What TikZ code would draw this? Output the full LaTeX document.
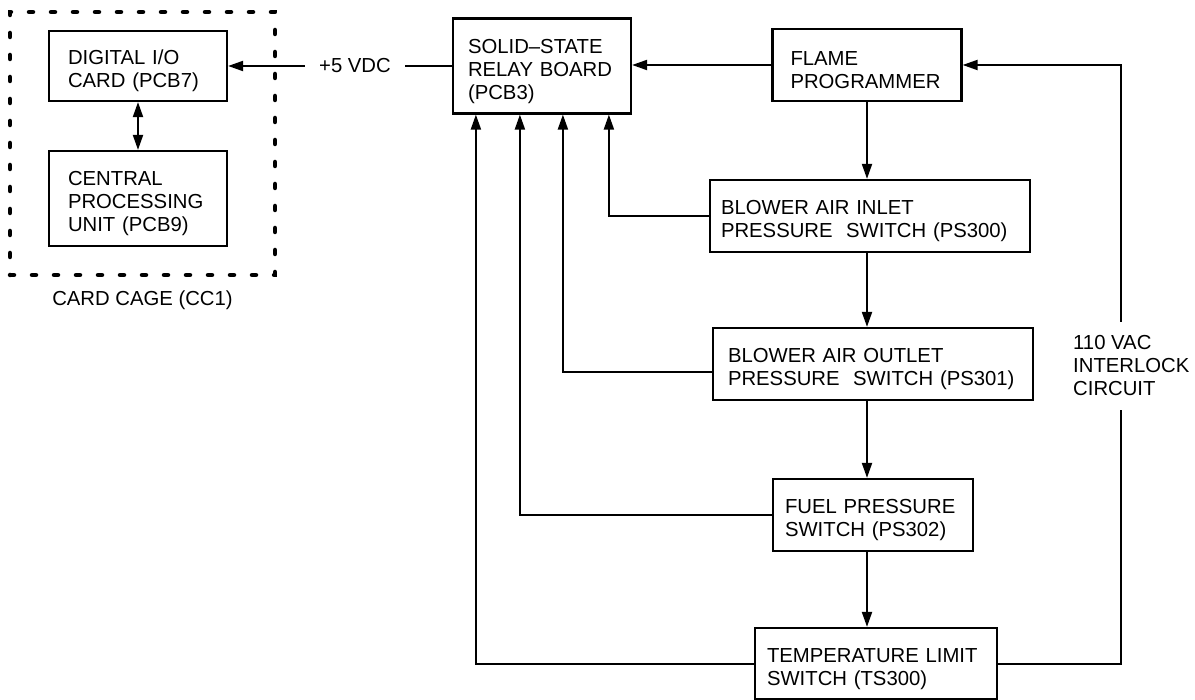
\documentclass[tikz,border=0pt]{standalone}
\usepackage{fontspec}
\setmainfont{Liberation Sans}
\usepackage{tikz}
\usetikzlibrary{arrows.meta, positioning}
\newcommand{\ctlfont}{\fontsize{20.3}{23}\selectfont}
\uchyph=0
\tikzset{
    ctlblock/.style={rectangle, draw, line width=2.2pt, align=left, inner ysep=0pt, font=\ctlfont, execute at begin node={\rule{0pt}{25pt}}},
    ctlarrow/.style={-{Triangle[length=15pt, width=10pt]}, line width=2pt},
    ctldarrow/.style={{Triangle[length=15pt, width=10pt]}-{Triangle[length=15pt, width=10pt]}, line width=2pt},
    ctlwire/.style={line width=2pt},
    ctlannot/.style={font=\ctlfont, align=left},
    ctlcage/.style={rectangle, draw, line width=4.5pt, line cap=round, dash pattern=on 4pt off 18pt}
}

\begin{document}
\begin{tikzpicture}[x=1pt, y=-1pt]
\useasboundingbox (0,0) rectangle (1195,700);

% card cage
\node[ctlcage, minimum width=265pt, minimum height=263pt,
      label={[ctlannot, yshift=-10pt]below:CARD CAGE (CC1)}] (cage) at (142.5,143.5) {};
\node[ctlblock, text width=140pt, inner xsep=19pt, minimum height=70pt] (dio) at (138,66) {DIGITAL I/O\\CARD (PCB7)};
\node[ctlblock, text width=140pt, inner xsep=19pt, minimum height=95pt] (cpu) at (138,198.5) {CENTRAL\\PROCESSING\\UNIT (PCB9)};

% relay board and interlock chain
\node[ctlblock, text width=148pt, inner xsep=15pt, minimum height=95pt] (ssr) at (542,66) {SOLID--STATE\\RELAY BOARD\\(PCB3)};
\node[ctlblock, text width=153pt, inner xsep=18pt, minimum height=72pt] (flame) at (867,65) {FLAME\\PROGRAMMER};
\node[ctlblock, text width=298pt, inner xsep=11pt, minimum height=72pt] (inlet) at (870,216) {BLOWER AIR INLET\\PRESSURE\ \ SWITCH (PS300)};
\node[ctlblock, text width=290pt, inner xsep=15pt, minimum height=72pt] (outlet) at (873,364) {BLOWER AIR OUTLET\\PRESSURE\ \ SWITCH (PS301)};
\node[ctlblock, text width=176pt, inner xsep=12pt, minimum height=72pt] (fuel) at (873,515) {FUEL PRESSURE\\SWITCH (PS302)};
\node[ctlblock, text width=218pt, inner xsep=12pt, minimum height=71pt] (temp) at (876,663.5) {TEMPERATURE LIMIT\\SWITCH (TS300)};

\node[ctlannot, inner xsep=14pt] (vdc) at (355,66) {+5 VDC};
\node[ctlannot, inner xsep=0pt, inner ysep=14pt, anchor=west] (ilk) at (1073,366) {110 VAC\\INTERLOCK\\CIRCUIT};
\coordinate (loop) at (1121,0);

\draw[ctldarrow] (dio) -- (cpu);
\draw[ctlwire] (ssr.west) -- (vdc.east);
\draw[ctlarrow] (vdc.west) -- (dio.east);
\draw[ctlarrow] (flame.west) -- (flame.west -| ssr.east);

\draw[ctlarrow] (flame.south) -- (flame.south |- inlet.north);
\draw[ctlarrow] (inlet.south -| flame.south) -- (outlet.north -| flame.south);
\draw[ctlarrow] (outlet.south -| flame.south) -- (fuel.north -| flame.south);
\draw[ctlarrow] (fuel.south -| flame.south) -- (temp.north -| flame.south);

\draw[ctlarrow] (inlet.west) -| ([xshift=157pt]ssr.south west);
\draw[ctlarrow] ([yshift=-8pt]outlet.west) -| ([xshift=111pt]ssr.south west);
\draw[ctlarrow] (fuel.west) -| ([xshift=68pt]ssr.south west);
\draw[ctlarrow] (temp.west) -| ([xshift=24pt]ssr.south west);

\draw[ctlwire] (temp.east) -| (ilk.south -| loop);
\draw[ctlarrow] (ilk.north -| loop) |- (flame.east);

\end{tikzpicture}
\end{document}
